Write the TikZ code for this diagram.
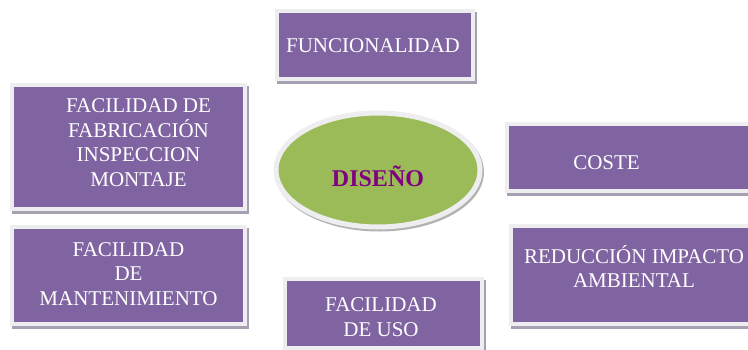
\documentclass[tikz,border=0pt]{standalone}
\usepackage{fontspec}
\setmainfont{Liberation Serif}
\usetikzlibrary{shapes.geometric,shadows,positioning}
\definecolor{boxpurple}{RGB}{128,100,162}
\definecolor{ringgray}{RGB}{238,238,240}
\definecolor{shadegray}{RGB}{166,160,178}
\definecolor{ellgreen}{RGB}{155,187,89}
\definecolor{txtpurple}{RGB}{128,0,128}
\begin{document}
\begin{tikzpicture}[x=1pt,y=-1pt,bx/.style={rectangle,fill=boxpurple,draw=ringgray,line width=4pt,
        inner sep=0pt,drop shadow={shadow xshift=2pt,shadow yshift=-3pt,opacity=1,fill=shadegray,
        draw=shadegray,line width=4pt}},tx/.style={text=white,align=center,inner sep=0pt,
        font=\rmfamily\fontsize{21}{24.5}\selectfont}]
    \useasboundingbox (0,0) rectangle (748,349);
    \path (375,45) node[bx,minimum width=196,minimum height=68,
            label={[tx,xshift=-2pt,yshift=-1pt]center:{FUNCIONALIDAD}}] (fun) {}
        -- ++(-246.5,102) node[bx,minimum width=233,minimum height=124,
            label={[tx,xshift=10pt,yshift=4.5pt]center:{FACILIDAD DE\\FABRICACIÓN\\INSPECCION\\MONTAJE}}] (fab) {}
        -- ++(0,128.5) node[bx,minimum width=233,minimum height=97,
            label={[tx,yshift=1.5pt]center:{FACILIDAD\\DE\\MANTENIMIENTO}}] (mant) {}
        -- ++(255,38) node[bx,minimum width=197,minimum height=69,
            label={[tx,xshift=-2.5pt,yshift=-3.5pt]center:{FACILIDAD\\DE USO}}] (uso) {}
        -- ++(248,-38.5) node[bx,minimum width=241,minimum height=98,
            label={[tx,xshift=2.5pt,yshift=8.5pt]center:{REDUCCIÓN IMPACTO\\AMBIENTAL}}] (reduc) {}
        -- ++(-2,-117.5) node[bx,minimum width=245,minimum height=67,
            label={[tx,xshift=-23pt,yshift=-5.5pt]center:{COSTE}}] (coste) {};
    % centro
    \node[ellipse,fill=ellgreen,draw=ringgray,line width=5pt,minimum width=204,minimum height=114,
        drop shadow={shadow xshift=1.5pt,shadow yshift=-2pt,opacity=1,fill=gray!60,draw=gray!60,line width=5pt},
        label={[text=txtpurple,font=\rmfamily\bfseries\fontsize{24}{28}\selectfont,yshift=-6pt]center:{DISEÑO}}]
        (dis) at (378,170) {};
\end{tikzpicture}
\end{document}
